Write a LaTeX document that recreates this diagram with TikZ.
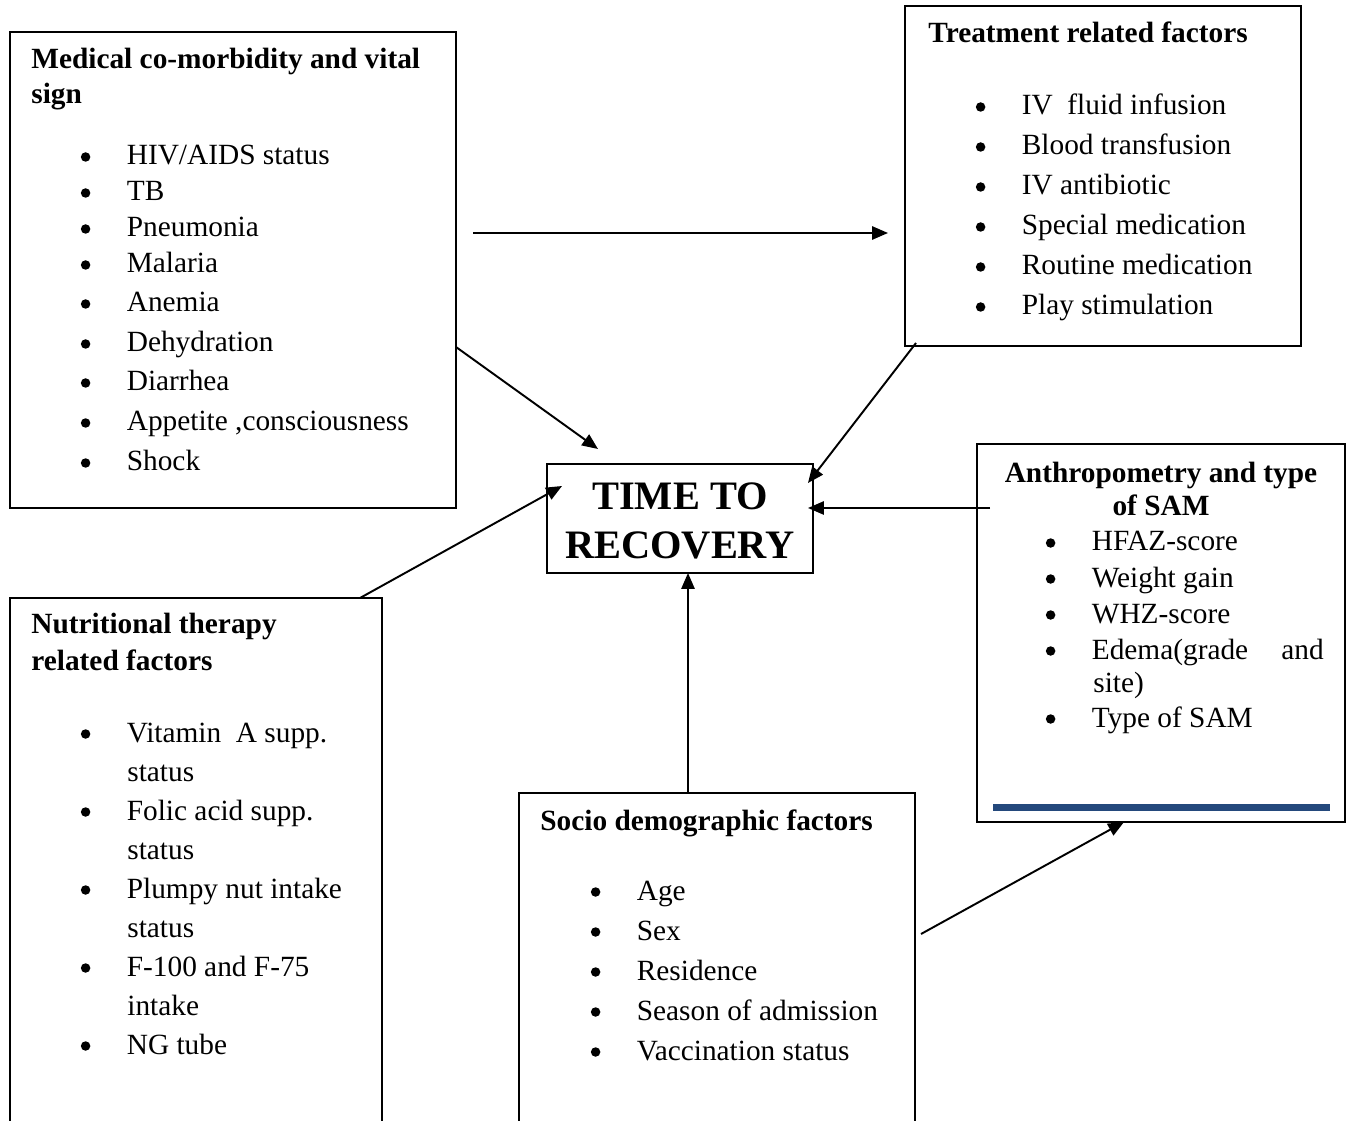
\documentclass[tikz,border=0pt]{standalone}
\usepackage{fontspec}
\setmainfont{Liberation Serif}
\usetikzlibrary{arrows.meta}
\definecolor{barblue}{RGB}{36,73,124}
\newcommand{\txtsize}{\fontsize{16.7}{19}\selectfont}
\newcommand{\blt}{\makebox[0.92cm][l]{\tikz[baseline=0pt]\fill (0.09cm,0.16cm) circle (0.095cm);}}

\begin{document}
\begin{tikzpicture}[x=0.02cm,y=-0.02cm,
	box/.style={draw, line width=0.9pt, inner sep=0pt},
	head/.style={anchor=base west, inner sep=0pt, font=\txtsize\bfseries},
	entry/.style={anchor=base west, inner sep=0pt, font=\txtsize},
	link/.style={-{Triangle[length=9pt,width=7.5pt]}, line width=1.1pt}]
	\useasboundingbox (0,0) rectangle (1349,1121);
	\clip (0,0) rectangle (1349,1121);
	
	% Boxes
	\node[box, minimum width=8.92cm, minimum height=9.52cm] (med) at (233,270) {};
	\node[box, minimum width=7.92cm, minimum height=6.80cm] (treat) at (1103,176) {};
	\node[box, line width=1pt, minimum width=5.32cm, minimum height=2.18cm, align=center,
		font=\fontsize{23}{27.5}\selectfont\bfseries] (time) at (680,518.5) {\rule{0pt}{18pt}TIME TO\\RECOVERY};
	\node[box, minimum width=7.36cm, minimum height=7.56cm] (anthro) at (1161,633) {};
	\node[box, minimum width=7.44cm, minimum height=10.84cm] (nutri) at (196,869) {};
	\node[box, minimum width=7.92cm, minimum height=6.94cm] (socio) at (717,966.5) {};
	\fill[barblue] (993,804) rectangle (1330,811);
	
	% Medical co-morbidity
	\node[head] (medh1) at (31,69) {Medical co-morbidity and vital};
	\node[head] (medh2) at (31,104) {sign};
	\node[entry] (med1) at (80.5,165) {\blt HIV/AIDS status};
	\node[entry] (med2) at (80.5,201) {\blt TB};
	\node[entry] (med3) at (80.5,237) {\blt Pneumonia};
	\node[entry] (med4) at (80.5,273) {\blt Malaria};
	\node[entry] (med5) at (80.5,312) {\blt Anemia};
	\node[entry] (med6) at (80.5,352) {\blt Dehydration};
	\node[entry] (med7) at (80.5,391) {\blt Diarrhea};
	\node[entry] (med8) at (80.5,431) {\blt Appetite ,consciousness};
	\node[entry] (med9) at (80.5,471) {\blt Shock};
	
	% Treatment
	\node[head] (treath) at (928,43) {Treatment related factors};
	\node[entry] (treat1) at (975.5,115) {\blt IV\ \ fluid infusion};
	\node[entry] (treat2) at (975.5,155) {\blt Blood transfusion};
	\node[entry] (treat3) at (975.5,195) {\blt IV antibiotic};
	\node[entry] (treat4) at (975.5,235) {\blt Special medication};
	\node[entry] (treat5) at (975.5,275) {\blt Routine medication};
	\node[entry] (treat6) at (975.5,315) {\blt Play stimulation};
	
	% Anthropometry
	\node[head, anchor=base] (anthroh1) at (1161,483) {Anthropometry and type};
	\node[head, anchor=base] (anthroh2) at (1161,516) {of SAM};
	\node[entry] (anthro1) at (1045.5,551) {\blt HFAZ-score};
	\node[entry] (anthro2) at (1045.5,587) {\blt Weight gain};
	\node[entry] (anthro3) at (1045.5,623) {\blt WHZ-score};
	\node[entry] (anthro4) at (1045.5,659) {\blt\makebox[4.64cm][l]{Edema(grade\hfill and}};
	\node[entry] (anthro4b) at (1093,692) {site)};
	\node[entry] (anthro5) at (1045.5,727) {\blt Type of SAM};
	
	% Nutritional therapy
	\node[head] (nutrih1) at (31,633) {Nutritional therapy};
	\node[head] (nutrih2) at (31,670) {related factors};
	\node[entry] (nutri1) at (80.5,742) {\blt Vitamin\ \ A supp.};
	\node[entry] (nutri1b) at (127,781) {status};
	\node[entry] (nutri2) at (80.5,820) {\blt Folic acid supp.};
	\node[entry] (nutri2b) at (127,859) {status};
	\node[entry] (nutri3) at (80.5,898) {\blt Plumpy nut intake};
	\node[entry] (nutri3b) at (127,937) {status};
	\node[entry] (nutri4) at (80.5,976) {\blt F-100 and F-75};
	\node[entry] (nutri4b) at (127,1015) {intake};
	\node[entry] (nutri5) at (80.5,1054) {\blt NG tube};
	
	% Socio demographic
	\node[head] (socioh) at (540,830) {Socio demographic factors};
	\node[entry] (socio1) at (590.5,900) {\blt Age};
	\node[entry] (socio2) at (590.5,940) {\blt Sex};
	\node[entry] (socio3) at (590.5,980) {\blt Residence};
	\node[entry] (socio4) at (590.5,1020) {\blt Season of admission};
	\node[entry] (socio5) at (590.5,1060) {\blt Vaccination status};
	
	% Arrow ends
	\coordinate (medright) at (473,233);
	\coordinate (treatin) at (888,233);
	\coordinate (medout) at (456,347);
	\coordinate (timenw) at (598,449);
	\coordinate (treatout) at (916,343);
	\coordinate (timene) at (808,483);
	\coordinate (anthroout) at (990,508);
	\coordinate (timee) at (808,508);
	\coordinate (nutriout) at (360,598);
	\coordinate (timew) at (562,486);
	\coordinate (socioout) at (688,793);
	\coordinate (times) at (688,573);
	\coordinate (sociodiag) at (921,934);
	\coordinate (anthroin) at (1124,822);
	
	\draw[link] (medright) -- (treatin);
	\draw[link] (medout) -- (timenw);
	\draw[link] (treatout) -- (timene);
	\draw[link] (anthroout) -- (timee);
	\draw[link] (nutriout) -- (timew);
	\draw[link] (socioout) -- (times);
	\draw[link] (sociodiag) -- (anthroin);
\end{tikzpicture}
\end{document}
